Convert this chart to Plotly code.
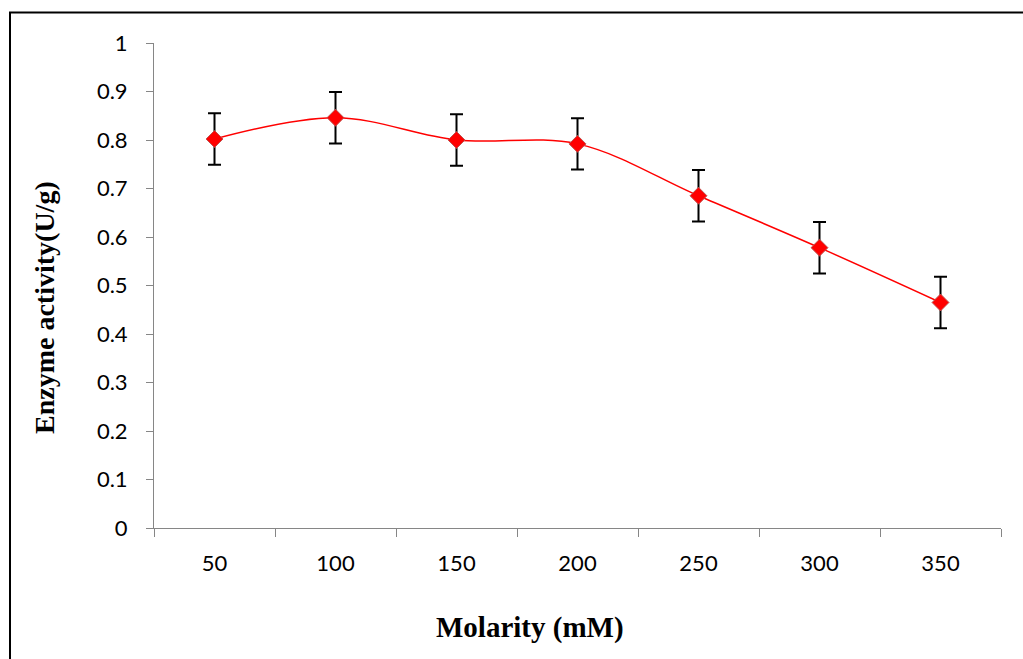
import plotly.graph_objects as go

molarity = ["50", "100", "150", "200", "250", "300", "350"]
activity = [0.802, 0.846, 0.800, 0.792, 0.685, 0.578, 0.465]
error = [0.053, 0.053, 0.053, 0.053, 0.053, 0.053, 0.053]
y_ticks = [0, 0.1, 0.2, 0.3, 0.4, 0.5, 0.6, 0.7, 0.8, 0.9, 1]
y_tick_text = ["0", "0.1", "0.2", "0.3", "0.4", "0.5", "0.6", "0.7", "0.8", "0.9", "1"]

W, H = 1023, 659
L, R, T, B = 154, 22, 43, 131
pw, ph = W - L - R, H - T - B

def px(x):
    return (x - L) / pw

def py(y):
    return (H - B - y) / ph

fig = go.Figure()
fig.add_trace(go.Scatter(
    x=molarity, y=activity,
    mode="lines+markers",
    line=dict(color="#FF0000", width=1.5, shape="spline", smoothing=1),
    marker=dict(symbol="diamond", size=13, color="#FF0000",
                line=dict(color="#C0504D", width=1)),
    error_y=dict(type="data", array=error, visible=True,
                 color="black", thickness=2, width=6.5),
    showlegend=False,
))

axis_gray = "#868686"
tick_font = dict(family="Lato, Calibri, sans-serif", size=22, color="black")

fig.update_layout(
    width=W, height=H,
    margin=dict(l=L, r=R, t=T, b=B, pad=0),
    paper_bgcolor="white", plot_bgcolor="white",
    xaxis=dict(
        type="category", tickson="boundaries",
        ticks="outside", ticklen=8, tickcolor=axis_gray, tickwidth=1,
        showline=True, linecolor=axis_gray, linewidth=1,
        showgrid=False, zeroline=False,
        tickfont=tick_font, ticklabelstandoff=16,
        range=[-0.5, 6.5],
    ),
    yaxis=dict(
        range=[0, 1], tickvals=y_ticks, ticktext=y_tick_text,
        ticks="outside", ticklen=7, tickcolor=axis_gray, tickwidth=1,
        showline=True, linecolor=axis_gray, linewidth=1,
        showgrid=False, zeroline=False,
        tickfont=tick_font, ticklabelstandoff=14,
    ),
    shapes=[dict(
        type="rect", xref="paper", yref="paper",
        x0=px(10), x1=px(1030), y0=py(670), y1=py(12.5),
        line=dict(color="black", width=2), fillcolor="rgba(0,0,0,0)",
        layer="above",
    )],
    annotations=[
        dict(text="<b>Molarity (mM)</b>", xref="paper", yref="paper",
             x=px(530), y=py(627), showarrow=False,
             xanchor="center", yanchor="middle",
             font=dict(family="Liberation Serif, Times New Roman, serif", size=29, color="black")),
        dict(text="<b>Enzyme activity(U/g)</b>", xref="paper", yref="paper",
             x=px(44), y=py(308), showarrow=False, textangle=-90,
             xanchor="center", yanchor="middle",
             font=dict(family="Liberation Serif, Times New Roman, serif", size=28, color="black")),
    ],
)

fig.write_html("out.html")
